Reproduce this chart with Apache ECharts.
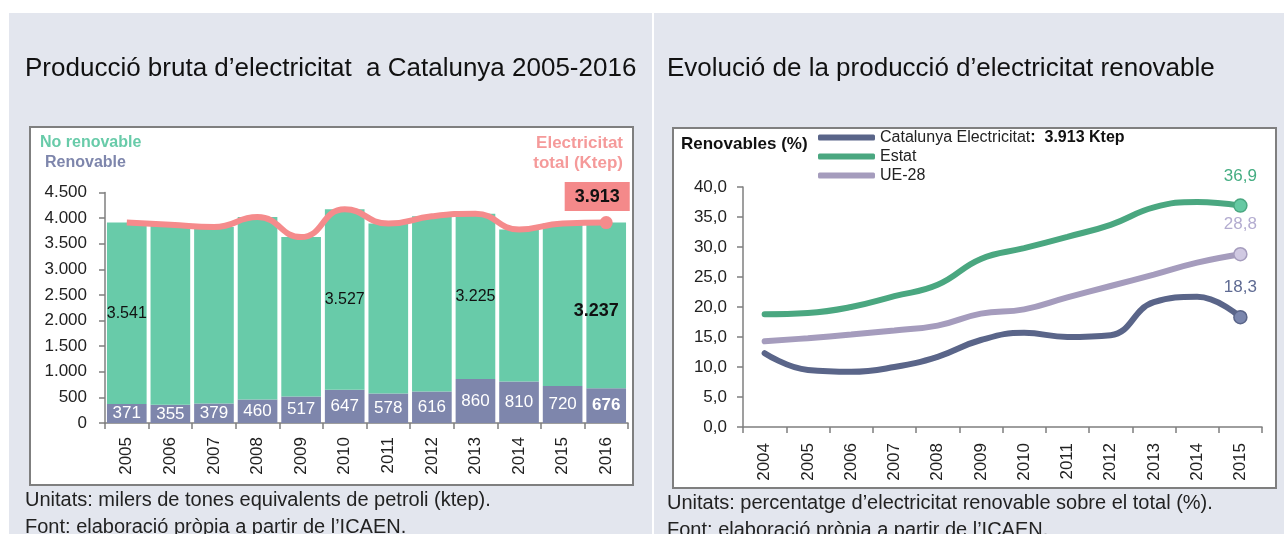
<!DOCTYPE html>
<html>
<head>
<meta charset="utf-8">
<script src="https://cdn.jsdelivr.net/npm/echarts@6/dist/echarts.min.js"></script>
<style>
  html, body { margin: 0; padding: 0; background: #fff; }
  #main { width: 1284px; height: 534px; }
</style>
</head>
<body>
<div id="main"></div>
<script>
// Producció bruta d'electricitat (ktep)
const years = ["2005", "2006", "2007", "2008", "2009", "2010", "2011", "2012", "2013", "2014", "2015", "2016"];
const renovable = [371, 355, 379, 460, 517, 647, 578, 616, 860, 810, 720, 676];
const noRenovable = [3541, 3515, 3446, 3560, 3113, 3527, 3317, 3419, 3225, 2970, 3175, 3237];
const totalElec = [3912, 3870, 3825, 4020, 3630, 4174, 3895, 4035, 4085, 3780, 3895, 3913];
const labelledYears = ["2005", "2010", "2013", "2016"];

// Evolució renovable (%)
const yearsRen = ["2004", "2005", "2006", "2007", "2008", "2009", "2010", "2011", "2012", "2013", "2014", "2015"];
const catalunya = [12.3, 9.5, 9.2, 10.0, 11.7, 14.5, 15.7, 15.0, 15.3, 20.8, 21.7, 18.3];
const estat = [18.8, 19.0, 20.0, 21.8, 23.7, 28.0, 29.8, 31.7, 33.7, 36.6, 37.5, 36.9];
const ue28 = [14.3, 14.8, 15.4, 16.1, 16.9, 18.9, 19.6, 21.6, 23.5, 25.4, 27.4, 28.8];

const FONT = "Liberation Sans, Arial, sans-serif";
const green = "#68cba9";
const purple = "#7e86ac";
const salmon = "#f58b8c";
const panel = "#e3e6ee";

const fmtMil = (v) => String(v).replace(/\B(?=(\d{3})+(?!\d))/g, ".");
const fmtPct = (v) => Number(v).toFixed(1).replace(".", ",");
const last = years.length - 1;
const lastR = yearsRen.length - 1;

const chart = echarts.init(document.getElementById("main"));

// sèries de línia de la dreta amb el punt final marcat
function renLine(name, data, color, fill, labelColor) {
  return {
    name: name,
    type: "line",
    xAxisIndex: 1,
    yAxisIndex: 1,
    smooth: 0.45,
    symbol: "circle",
    symbolSize: 13,
    showSymbol: true,
    lineStyle: { color: color, width: 6, cap: "round" },
    itemStyle: { color: color },
    data: data.map((v, i) =>
      i === lastR
        ? {
            value: v,
            itemStyle: { color: fill, borderColor: color, borderWidth: 1.5 },
            label: { show: true, position: "top", distance: 14, formatter: (p) => fmtPct(p.value), color: labelColor, fontSize: 17 },
          }
        : { value: v, symbol: "none" }
    ),
    z: 3,
  };
}

const option = {
  animation: false,
  textStyle: { fontFamily: FONT },
  graphic: [
    { type: "rect", shape: { x: 9, y: 13, width: 643, height: 521 }, style: { fill: panel }, z: -10 },
    { type: "rect", shape: { x: 654, y: 13, width: 630, height: 521 }, style: { fill: panel }, z: -10 },
    { type: "rect", shape: { x: 30, y: 127, width: 603, height: 358 }, style: { fill: "#fff", stroke: "#7f7f7f", lineWidth: 2 }, z: -9 },
    { type: "rect", shape: { x: 673, y: 128, width: 603, height: 360 }, style: { fill: "#fff", stroke: "#7f7f7f", lineWidth: 2 }, z: -9 },
  ],
  title: [
    { text: "Producció bruta d’electricitat  a Catalunya 2005-2016", left: 25, top: 56, padding: 0, textStyle: { fontSize: 26, fontWeight: "normal", color: "#111" } },
    { text: "Evolució de la producció d’electricitat renovable", left: 667, top: 56, padding: 0, textStyle: { fontSize: 26, fontWeight: "normal", color: "#111" } },
    { text: "No renovable", left: 40, top: 135, padding: 0, textStyle: { fontSize: 16, fontWeight: "bold", color: green } },
    { text: "Renovable", left: 45, top: 155, padding: 0, textStyle: { fontSize: 16, fontWeight: "bold", color: purple } },
    { text: "Electricitat", right: 661, top: 135, padding: 0, textStyle: { fontSize: 17, fontWeight: "bold", color: "#f59a9a" } },
    { text: "total (Ktep)", right: 661, top: 155, padding: 0, textStyle: { fontSize: 17, fontWeight: "bold", color: "#f59a9a" } },
    { text: "Renovables (%)", left: 681, top: 136, padding: 0, textStyle: { fontSize: 17, fontWeight: "bold", color: "#111" } },
    { text: "Unitats: milers de tones equivalents de petroli (ktep).", left: 25, top: 490, padding: 0, textStyle: { fontSize: 20, fontWeight: "normal", color: "#222" } },
    { text: "Font: elaboració pròpia a partir de l’ICAEN.", left: 25, top: 517, padding: 0, textStyle: { fontSize: 20, fontWeight: "normal", color: "#222" } },
    { text: "Unitats: percentatge d’electricitat renovable sobre el total (%).", left: 667, top: 493, padding: 0, textStyle: { fontSize: 20, fontWeight: "normal", color: "#222" } },
    { text: "Font: elaboració pròpia a partir de l’ICAEN.", left: 667, top: 520, padding: 0, textStyle: { fontSize: 20, fontWeight: "normal", color: "#222" } },
  ],
  legend: {
    data: ["Catalunya Electricitat", "Estat", "UE-28"],
    orient: "vertical",
    left: 818,
    top: 128,
    padding: 0,
    itemGap: 0,
    itemWidth: 57,
    itemHeight: 6,
    icon: "roundRect",
    itemStyle: { borderWidth: 0 },
    textStyle: {
      fontSize: 16,
      lineHeight: 19,
      color: "#222",
      rich: {
        a: { fontSize: 16, lineHeight: 19, color: "#222" },
        b: { fontSize: 16, lineHeight: 19, color: "#111", fontWeight: "bold" },
      },
    },
    formatter: (name) => (name === "Catalunya Electricitat" ? "{a|Catalunya Electricitat}{b|:  " + fmtMil(totalElec[last]) + " Ktep}" : name),
  },
  grid: [
    { left: 105, top: 192.5, width: 523, height: 230.5 },
    { left: 743, top: 187, width: 519, height: 240 },
  ],
  xAxis: [
    {
      type: "category",
      gridIndex: 0,
      data: years,
      axisLine: { lineStyle: { color: "#7f7f7f", width: 1.5 } },
      axisTick: { show: true, length: 6, lineStyle: { color: "#7f7f7f", width: 1.5 } },
      axisLabel: { rotate: 90, margin: 14, fontSize: 17, color: "#222" },
    },
    {
      type: "category",
      gridIndex: 1,
      data: yearsRen,
      axisLine: { lineStyle: { color: "#7f7f7f", width: 1.5 } },
      axisTick: { show: true, length: 6, lineStyle: { color: "#7f7f7f", width: 1.5 } },
      axisLabel: { rotate: 90, margin: 16, fontSize: 17, color: "#222" },
    },
  ],
  yAxis: [
    {
      type: "value",
      gridIndex: 0,
      min: 0,
      max: 4500,
      interval: 500,
      axisLine: { show: true, lineStyle: { color: "#7f7f7f", width: 1.5 } },
      axisTick: { show: true, length: 6, lineStyle: { color: "#7f7f7f", width: 1.5 } },
      axisLabel: { margin: 18, fontSize: 17, color: "#222", formatter: fmtMil },
      splitLine: { show: false },
    },
    {
      type: "value",
      gridIndex: 1,
      min: 0,
      max: 40,
      interval: 5,
      axisLine: { show: true, lineStyle: { color: "#7f7f7f", width: 1.5 } },
      axisTick: { show: true, length: 6, lineStyle: { color: "#7f7f7f", width: 1.5 } },
      axisLabel: { margin: 16, fontSize: 17, color: "#222", formatter: fmtPct },
      splitLine: { show: false },
    },
  ],
  series: [
    {
      name: "Renovable",
      type: "bar",
      stack: "prod",
      xAxisIndex: 0,
      yAxisIndex: 0,
      barCategoryGap: "9%",
      itemStyle: { color: purple },
      label: { show: true, position: "inside", color: "#fff", fontSize: 17, formatter: (p) => fmtMil(p.value) },
      data: renovable.map((v, i) => (i === last ? { value: v, label: { fontWeight: "bold" } } : v)),
    },
    {
      name: "No renovable",
      type: "bar",
      stack: "prod",
      xAxisIndex: 0,
      yAxisIndex: 0,
      barCategoryGap: "9%",
      itemStyle: { color: green },
      label: { show: false, position: "inside", color: "#111", fontSize: 16, formatter: (p) => fmtMil(p.value) },
      data: noRenovable.map((v, i) => {
        if (labelledYears.indexOf(years[i]) < 0) return v;
        return i === last
          ? { value: v, label: { show: true, fontWeight: "bold", fontSize: 18, offset: [-10, 6] } }
          : { value: v, label: { show: true } };
      }),
    },
    {
      name: "Electricitat total",
      type: "line",
      xAxisIndex: 0,
      yAxisIndex: 0,
      smooth: 0.5,
      symbol: "circle",
      symbolSize: 13,
      lineStyle: { color: salmon, width: 6 },
      itemStyle: { color: salmon },
      data: totalElec.map((v, i) =>
        i === last
          ? {
              value: v,
              label: {
                show: true,
                position: "top",
                distance: 5,
                offset: [-9, 0],
                formatter: (p) => fmtMil(p.value),
                backgroundColor: "#f4898a",
                padding: [6, 10, 5, 10],
                color: "#111",
                fontSize: 18,
                fontWeight: "bold",
              },
            }
          : { value: v, symbol: "none" }
      ),
      z: 5,
    },
    renLine("Catalunya Electricitat", catalunya, "#5a6589", "#7a86ad", "#5f6b93"),
    renLine("Estat", estat, "#4aa780", "#66c9a3", "#44ad82"),
    renLine("UE-28", ue28, "#a59cbd", "#d0c9e2", "#b3acd0"),
  ],
};

chart.setOption(option);
</script>
</body>
</html>
